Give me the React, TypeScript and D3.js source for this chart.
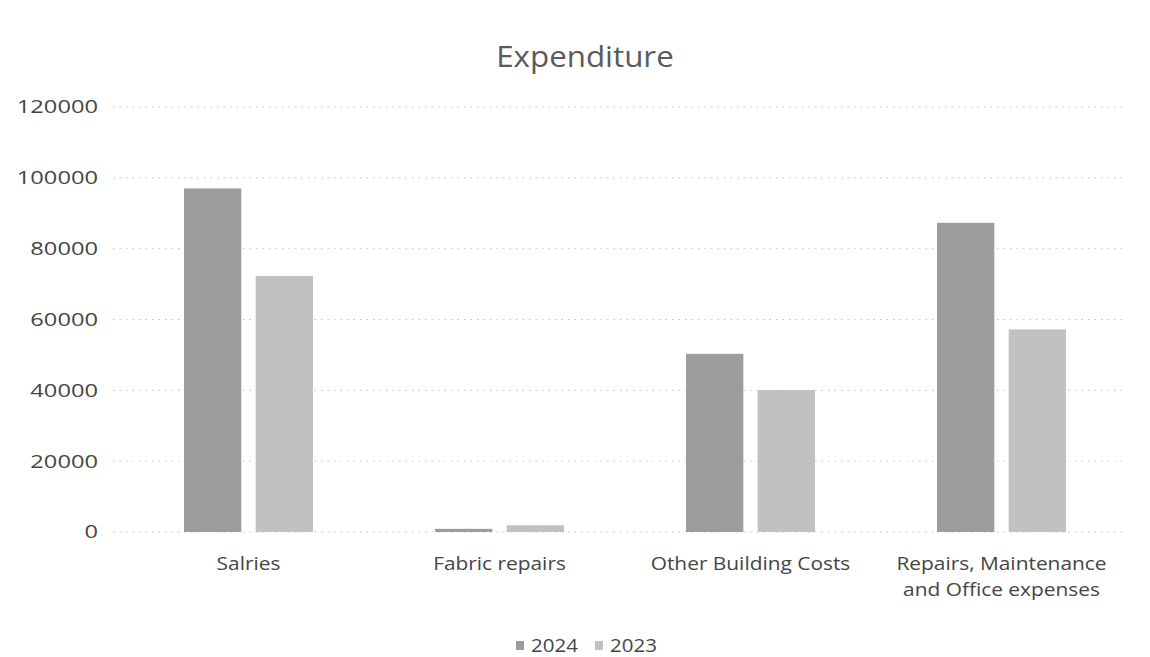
import React from 'react';
import * as d3 from 'd3';

const categories = ['Salries', 'Fabric repairs', 'Other Building Costs', 'Repairs, Maintenance and Office expenses'];
const categoryLines = [['Salries'], ['Fabric repairs'], ['Other Building Costs'], ['Repairs, Maintenance', 'and Office expenses']];
const seriesNames = ['2024', '2023'];
const values2024 = [97000, 900, 50300, 87300];
const values2023 = [72300, 1900, 40100, 57200];
const yTicks = [0, 20000, 40000, 60000, 80000, 100000, 120000];
const seriesColors = ['#9d9d9d', '#c1c1c1'];

const W = 1150;
const H = 657;
const plot = { left: 123, right: 1127, top: 107, bottom: 532 };
const font = '"Open Sans", "Noto Sans", sans-serif';
const textColor = '#454545';

function sx(x: number, s: number) {
  return `translate(${x},0) scale(${s},1) translate(${-x},0)`;
}

export default function App() {
  const x0 = d3.scaleBand<string>().domain(categories).range([plot.left, plot.right]).padding(0);
  const bw = x0.bandwidth();
  const outer = bw * 0.243;
  const x1 = d3.scaleBand<string>().domain(seriesNames).range([outer, bw - outer]).paddingInner(0.2).paddingOuter(0);
  const y = d3.scaleLinear().domain([0, 120000]).range([plot.bottom, plot.top]);
  const series = [values2024, values2023];

  return (
    <svg width={W} height={H} style={{ position: 'absolute', left: 0, top: 0, background: '#fff' }} fontFamily={font}>
      <rect x={0} y={0} width={W} height={H} fill="#fff" />
      <text x={585} y={67} textAnchor="middle" fontSize={29} fill="#5a5a5a" transform={sx(585, 1.08)}>Expenditure</text>
      {yTicks.map((t) => (
        <g key={t}>
          <line x1={plot.left - 10} x2={plot.right} y1={y(t)} y2={y(t)} stroke="#c4c4c4" strokeWidth={1} strokeDasharray="1.5 5" />
          <text x={98} y={y(t)} dy="0.35em" textAnchor="end" fontSize={18.5} fill={textColor} transform={sx(98, 1.28)}>{t}</text>
        </g>
      ))}
      {series.map((vals, si) => (
        <g key={seriesNames[si]}>
          {categories.map((c, ci) => (
            <rect key={c} x={(x0(c) as number) + (x1(seriesNames[si]) as number)} y={y(vals[ci])} width={x1.bandwidth()} height={plot.bottom - y(vals[ci])} fill={seriesColors[si]} />
          ))}
        </g>
      ))}
      {categories.map((c, ci) => {
        const cx = (x0(c) as number) + bw / 2;
        return (
          <text key={c} x={cx} y={570} textAnchor="middle" fontSize={18} fill={textColor} transform={sx(cx, 1.16)}>
            {categoryLines[ci].map((l, li) => (
              <tspan key={li} x={cx} dy={li === 0 ? 0 : 26}>{l}</tspan>
            ))}
          </text>
        );
      })}
      {seriesNames.map((s, si) => {
        const lx = 516 + si * 79;
        return (
          <g key={s}>
            <rect x={lx} y={641} width={8} height={9} fill={seriesColors[si]} />
            <text x={lx + 15} y={646} dy="0.35em" fontSize={18} fill={textColor} transform={sx(lx + 15, 1.14)}>{s}</text>
          </g>
        );
      })}
    </svg>
  );
}
